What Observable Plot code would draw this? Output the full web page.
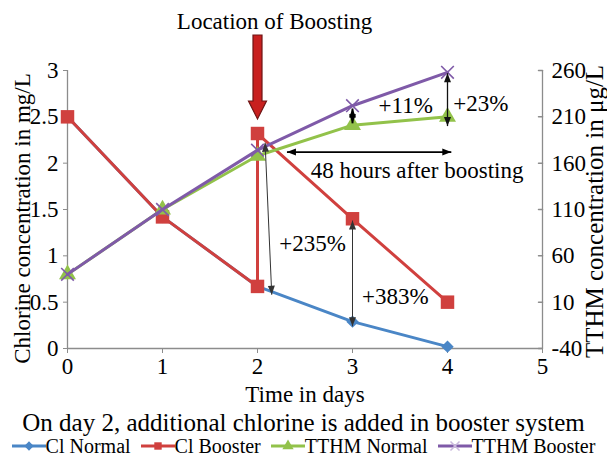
<!DOCTYPE html>
<html><head><meta charset="utf-8">
<script src="https://cdn.jsdelivr.net/npm/d3@7"></script>
<script src="https://cdn.jsdelivr.net/npm/@observablehq/plot@0.6"></script>
<style>
body{margin:0;background:#fff;font-family:"Liberation Serif","Times New Roman",serif;color:#000;}
#wrap{width:607px;height:458px;overflow:hidden;}
.caption{font-size:25px;text-align:center;line-height:24px;white-space:nowrap;margin-top:7px;}
.legend{display:flex;justify-content:center;align-items:center;font-size:20px;line-height:20px;white-space:nowrap;margin-top:1px;}
.legend span.item{display:inline-flex;align-items:center;margin-right:10px;}
.legend span.item:last-child{margin-right:0;}
</style></head><body><div id="wrap"></div>
<script>
// ---- data ----
const days = [0, 1, 2, 3, 4];
const clNormal = [2.5, 1.42, 0.67, 0.29, 0.02];
const clBoosterDays = [0, 1, 2, 2, 3, 4];
const clBooster = [2.5, 1.42, 0.67, 2.32, 1.40, 0.5];
const tthmNormal = [40, 110, 168, 201, 210];
const tthmBooster = [40, 110, 174, 222, 258];
const xTicks = [0, 1, 2, 3, 4, 5];
const yTicksLeft = [0, 0.5, 1, 1.5, 2, 2.5, 3];
const yTicksRight = [-40, 10, 60, 110, 160, 210, 260];
const seriesNames = ["Cl Normal", "Cl Booster", "TTHM Normal", "TTHM Booster"];
const seriesColors = ["#4a86c6", "#d0403e", "#92c24a", "#7f5aa8"];
const seriesSymbols = ["diamond2", "square", "triangle", "times"];
const annotationTexts = ["+235%", "+383%", "+11%", "+23%", "48 hours after boosting"];
const annotationX = [2.58, 3.45, 3.56, 4.35, 3.68];
const annotationY = [1.13, 0.56, 2.62, 2.64, 1.92];
// double-headed arrows
const arrowX1 = [2.08, 3.0, 3.0, 4.0, 2.31];
const arrowY1 = [2.22, 1.38, 2.59, 2.97, 2.12];
const arrowX2 = [2.15, 3.0, 3.0, 4.0, 4.04];
const arrowY2 = [0.58, 0.24, 2.43, 2.40, 2.12];
const arrowWidth = [1, 1, 2, 1.3, 1.8];
const arrowColor = ["#333", "#333", "#000", "#111", "#000"];
const boostDay = 2;
const boostArrowY = 2.93;

// TTHM (µg/L) -> left-axis units (mg/L) : -40..260 maps to 0..3
const toLeft = v => (v + 40) / 100;

const font = "'Liberation Serif', 'Times New Roman', serif";
const W = 607, H = 404, mL = 67, mR = 65, mT = 70, mB = 56;
const kx = (W - mL - mR) / 5, ky = (H - mT - mB) / 3;

const clNormalData = days.map((d, i) => ({day: d, v: clNormal[i]}));
const clBoosterData = clBoosterDays.map((d, i) => ({day: d, v: clBooster[i]}));
const tthmNormalData = days.map((d, i) => ({day: d, v: toLeft(tthmNormal[i])}));
const tthmBoosterData = days.map((d, i) => ({day: d, v: toLeft(tthmBooster[i])}));
const seriesData = [clNormalData, clBoosterData, tthmNormalData, tthmBoosterData];

const arrows = arrowX1.map((x1, i) => ({x1, y1: arrowY1[i], x2: arrowX2[i], y2: arrowY2[i], w: arrowWidth[i], c: arrowColor[i]}));
const heads = [];
for (const a of arrows) {
  const dxp = (a.x2 - a.x1) * kx, dyp = -(a.y2 - a.y1) * ky;
  const ang = Math.atan2(dxp, -dyp) * 180 / Math.PI;
  heads.push({x: a.x2, y: a.y2, r: ang, c: a.c});
  heads.push({x: a.x1, y: a.y1, r: ang + 180, c: a.c});
}
const headSymbol = {draw(ctx) { ctx.moveTo(0, 0); ctx.lineTo(-3.5, 9); ctx.lineTo(3.5, 9); ctx.closePath(); }};
const blockArrow = {draw(ctx) {
  ctx.moveTo(-4.5, -42); ctx.lineTo(4.5, -42); ctx.lineTo(4.5, 24);
  ctx.lineTo(9, 24); ctx.lineTo(0, 42); ctx.lineTo(-9, 24); ctx.lineTo(-4.5, 24); ctx.closePath();
}};
const annotations = annotationTexts.map((t, i) => ({t, x: annotationX[i], y: annotationY[i]}));

const marks = [
  Plot.ruleY([0], {stroke: "#8c8c8c", strokeWidth: 1.3}),
  Plot.ruleX([0], {stroke: "#8c8c8c", strokeWidth: 1.3}),
  Plot.ruleX([5], {stroke: "#8c8c8c", strokeWidth: 1.3}),
  Plot.axisX(xTicks, {tickSize: 5, tickPadding: 4, stroke: "#8c8c8c", fill: "#000", fontSize: 23, fontFamily: font, label: null}),
  Plot.axisY(yTicksLeft, {anchor: "left", tickSize: 4, tickPadding: 5, stroke: "#8c8c8c", fill: "#000", fontSize: 23, fontFamily: font, label: null, tickFormat: d => String(d)}),
  Plot.axisY(yTicksRight.map(toLeft), {anchor: "right", tickSize: 0, tickPadding: 9, stroke: "#8c8c8c", fill: "#000", fontSize: 23, fontFamily: font, label: null, tickFormat: d => String(Math.round(d * 100 - 40))}),
  Plot.vector(yTicksRight.map(toLeft), {x: 5, y: d => d, length: 4, rotate: -90, anchor: "start", stroke: "#8c8c8c", shape: {draw(ctx, l) { ctx.moveTo(0, 0); ctx.lineTo(0, -l); }}}),
  Plot.text(["Chlorine concentration in mg/L"], {frameAnchor: "left", textAnchor: "middle", lineAnchor: "middle", dx: -45, dy: 9, rotate: -90, fontSize: 23, fontFamily: font, fill: "#000"}),
  Plot.text(["TTHM concentration in \u03bcg/L"], {frameAnchor: "right", textAnchor: "middle", lineAnchor: "middle", dx: 52, dy: 2, rotate: -90, fontSize: 25, fontFamily: font, fill: "#000"}),
  Plot.text(["Time in days"], {frameAnchor: "bottom", lineAnchor: "middle", dy: 46, fontSize: 23, fontFamily: font, fill: "#000"}),
];
seriesData.forEach((data, i) => {
  marks.push(Plot.line(data, {x: "day", y: "v", stroke: seriesColors[i], strokeWidth: 3}));
  const isStroke = seriesSymbols[i] === "times";
  marks.push(Plot.dot(data, {x: "day", y: "v", symbol: seriesSymbols[i], r: [5.6, 7.6, 6.3, 5.8][i],
    fill: isStroke ? "none" : seriesColors[i], stroke: isStroke ? seriesColors[i] : "none", strokeWidth: isStroke ? 1.6 : 0}));
});
marks.push(
  Plot.link(arrows, {x1: "x1", y1: "y1", x2: "x2", y2: "y2", stroke: "c", strokeWidth: "w"}),
  Plot.dot(heads, {x: "x", y: "y", rotate: "r", symbol: headSymbol, fill: "c", stroke: "none", r: 4}),
  Plot.text(annotations, {x: "x", y: "y", text: "t", fontSize: 23, fontFamily: font, fill: "#000"}),
  Plot.dot([boostDay], {x: d => d, y: boostArrowY, symbol: blockArrow, fill: "#c8201f", stroke: "#6e1414", strokeWidth: 1.2, r: 10}),
  Plot.text(["Location of Boosting"], {x: 2.18, y: 3.53, fontSize: 23, fontFamily: font, fill: "#000"})
);

const chart = Plot.plot({
  width: W, height: H, marginLeft: mL, marginRight: mR, marginTop: mT, marginBottom: mB,
  x: {domain: [0, 5]}, y: {domain: [0, 3]},
  style: {fontFamily: font, background: "#fff", overflow: "visible"},
  color: {type: "identity"},
  marks
});
const wrap = document.getElementById("wrap");
wrap.appendChild(chart);

const cap = document.createElement("div");
cap.className = "caption";
cap.textContent = "On day 2, additional chlorine is added in booster system";
wrap.appendChild(cap);

const leg = document.createElement("div");
leg.className = "legend";
seriesNames.forEach((name, i) => {
  const item = document.createElement("span");
  item.className = "item";
  const sw = d3.create("svg").attr("width", 34).attr("height", 14);
  sw.append("line").attr("x1", 0).attr("x2", 34).attr("y1", 7).attr("y2", 7).attr("stroke", seriesColors[i]).attr("stroke-width", 3);
  const sym = {diamond2: d3.symbolDiamond2, square: d3.symbolSquare, triangle: d3.symbolTriangle, times: d3.symbolTimes}[seriesSymbols[i]];
  const p = sw.append("path").attr("transform", "translate(17,7)").attr("d", d3.symbol(sym, 55)());
  if (seriesSymbols[i] === "times") p.attr("fill", "none").attr("stroke", "#c9b8dc").attr("stroke-width", 1.5);
  else p.attr("fill", seriesColors[i]);
  item.appendChild(sw.node());
  const t = document.createElement("span");
  t.textContent = name;
  item.appendChild(t);
  leg.appendChild(item);
});
wrap.appendChild(leg);
</script></body></html>
